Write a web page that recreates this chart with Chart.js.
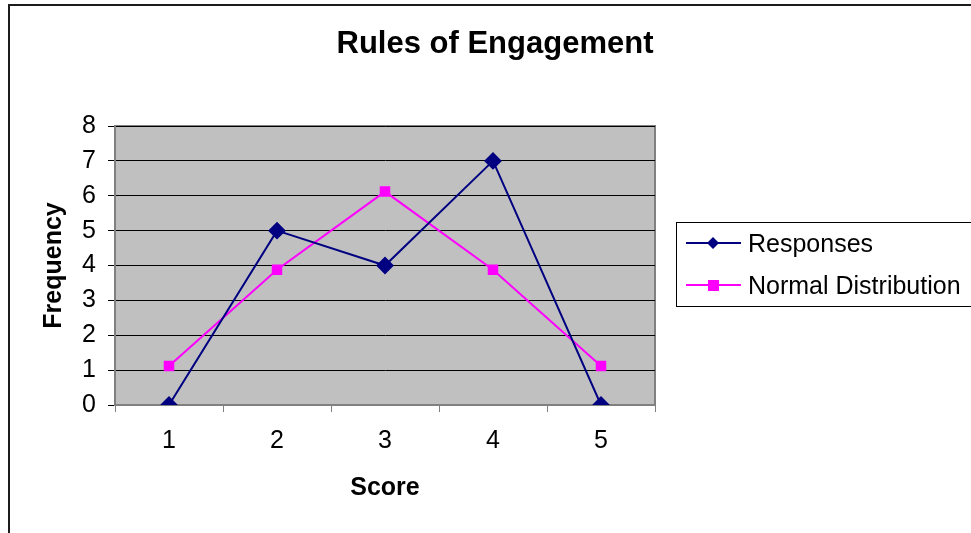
<!DOCTYPE html>
<html lang="en">
<head>
  <meta charset="UTF-8" />
  <title>Rules of Engagement</title>
  <style>
    html, body {
      margin: 0;
      padding: 0;
      background: #fff;
      overflow: hidden;
    }
    .frame {
      position: absolute;
      left: 8px;
      top: 4px;
      width: 1000px;
      height: 600px;
      border: 2px solid #1c1c1c;
    }
    .wrap {
      position: absolute;
      left: 0;
      top: 0;
      width: 971px;
      height: 533px;
    }
  </style>
</head>
<body>
  <div class="frame"></div>
  <div class="wrap"><canvas id="chart" width="971" height="533"></canvas></div>

  <script src="https://cdn.jsdelivr.net/npm/chart.js"></script>
  <script>
    // data
    const scores = ['1', '2', '3', '4', '5'];
    const responses = [0, 5, 4, 7, 0];
    const normalDist = [1.12, 3.88, 6.12, 3.88, 1.12];
    const yTicks = [0, 1, 2, 3, 4, 5, 6, 7, 8];

    const font = 'Arial, "Liberation Sans", sans-serif';

    // grey plot area + border like the old Excel charts
    const plotBg = {
      id: 'plotBg',
      beforeDraw(chart) {
        const { ctx, chartArea: a } = chart;
        ctx.save();
        ctx.fillStyle = '#c0c0c0';
        ctx.fillRect(a.left, a.top, a.right - a.left, a.bottom - a.top);
        ctx.strokeStyle = '#808080';
        ctx.lineWidth = 2;
        ctx.beginPath();
        ctx.moveTo(a.left, a.top);
        ctx.lineTo(a.right, a.top);
        ctx.lineTo(a.right, a.bottom);
        ctx.stroke();
        ctx.restore();
      }
    };

    // legend box on the right, drawn from the datasets
    const boxLegend = {
      id: 'boxLegend',
      afterDraw(chart) {
        const { ctx } = chart;
        const x = 676, y = 222, w = 320, h = 84;
        ctx.save();
        ctx.fillStyle = '#fff';
        ctx.fillRect(x, y, w, h);
        ctx.strokeStyle = '#000';
        ctx.lineWidth = 1;
        ctx.strokeRect(x + 0.5, y + 0.5, w, h);
        ctx.font = '25px ' + font;
        ctx.textBaseline = 'alphabetic';
        chart.data.datasets.forEach((ds, i) => {
          const cy = y + 21 + i * 42;
          ctx.strokeStyle = ds.borderColor;
          ctx.lineWidth = 2;
          ctx.beginPath();
          ctx.moveTo(686, cy);
          ctx.lineTo(741, cy);
          ctx.stroke();
          ctx.fillStyle = ds.pointBackgroundColor;
          ctx.beginPath();
          if (ds.pointStyle === 'rectRot') {
            ctx.moveTo(713, cy - 6);
            ctx.lineTo(719, cy);
            ctx.lineTo(713, cy + 6);
            ctx.lineTo(707, cy);
            ctx.closePath();
          } else {
            ctx.rect(708, cy - 5, 11, 11);
          }
          ctx.fill();
          ctx.fillStyle = '#000';
          ctx.fillText(ds.label, 748, cy + 9);
        });
        ctx.restore();
      }
    };

    const mainTitle = {
      id: 'mainTitle',
      afterDraw(chart) {
        const ctx = chart.ctx;
        ctx.save();
        ctx.font = 'bold 31px ' + font;
        ctx.fillStyle = '#000';
        ctx.textAlign = 'center';
        ctx.textBaseline = 'alphabetic';
        ctx.fillText('Rules of Engagement', 495, 53);
        ctx.restore();
      }
    };

    new Chart(document.getElementById('chart'), {
      type: 'line',
      data: {
        labels: scores,
        datasets: [
          {
            label: 'Responses',
            data: responses,
            borderColor: '#000080',
            backgroundColor: '#000080',
            pointBackgroundColor: '#000080',
            pointBorderColor: '#000080',
            pointStyle: 'rectRot',
            pointRadius: 7.5,
            borderWidth: 2,
            tension: 0
          },
          {
            label: 'Normal Distribution',
            data: normalDist,
            borderColor: '#ff00ff',
            backgroundColor: '#ff00ff',
            pointBackgroundColor: '#ff00ff',
            pointBorderColor: '#ff00ff',
            pointStyle: 'rect',
            pointRadius: 6,
            borderWidth: 2,
            tension: 0
          }
        ]
      },
      options: {
        responsive: false,
        animation: false,
        layout: { padding: { left: 0, top: 126, right: 316, bottom: 0 } },
        scales: {
          x: {
            offset: true,
            grid: {
              offset: true,
              drawOnChartArea: false,
              drawTicks: true,
              tickLength: 7,
              color: '#808080',
              lineWidth: 1
            },
            border: { color: '#808080', width: 2 },
            ticks: {
              color: '#000',
              padding: 14,
              font: { family: font, size: 25 }
            },
            title: {
              display: true,
              text: 'Score',
              color: '#000',
              font: { family: font, size: 25, weight: 'bold' },
              padding: { top: 0, bottom: 30 }
            },
            afterFit(scale) { scale.height = 128; }
          },
          y: {
            min: 0,
            max: 8,
            afterBuildTicks(scale) {
              scale.ticks = yTicks.map(v => ({ value: v }));
            },
            grid: {
              color: '#000',
              lineWidth: 1,
              tickLength: 7,
              tickColor: '#000'
            },
            border: { color: '#808080', width: 2 },
            ticks: {
              color: '#000',
              padding: 12,
              font: { family: font, size: 25 }
            },
            title: {
              display: true,
              text: 'Frequency',
              color: '#000',
              font: { family: font, size: 25, weight: 'bold' },
              padding: { top: 39, bottom: 0 }
            },
            afterFit(scale) { scale.width = 115; }
          }
        },
        plugins: {
          legend: { display: false },
          tooltip: { enabled: false },
          title: { display: false }
        }
      },
      plugins: [plotBg, boxLegend, mainTitle]
    });
  </script>
</body>
</html>
